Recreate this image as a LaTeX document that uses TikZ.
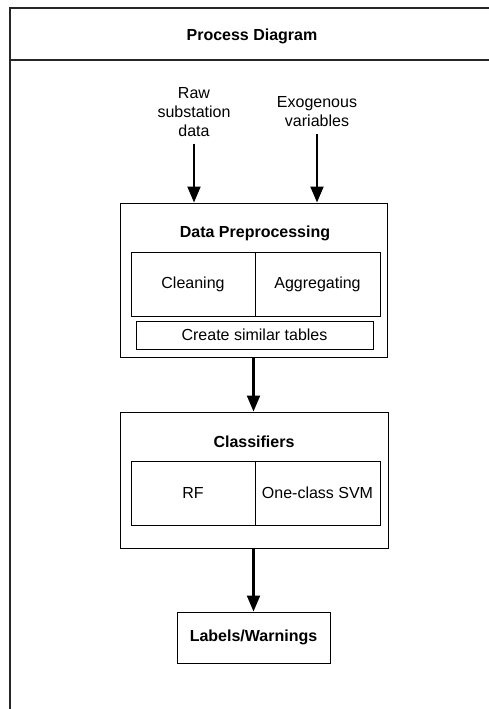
\documentclass[tikz,border=0pt]{standalone}
\usepackage{fontspec}
\setmainfont{Liberation Sans}
\usetikzlibrary{arrows.meta}
\begin{document}
\begin{tikzpicture}[x=1pt,y=-1pt,
  every node/.style={font=\fontsize{16}{19}\selectfont},
  box/.style={draw=black,line width=1pt,rectangle,inner sep=0pt,anchor=center},
  txt/.style={inner sep=0pt,align=center},
  ttl/.style={inner sep=0pt,font=\fontsize{16}{19}\selectfont\bfseries},
  arr/.style={line width=2.2pt,-{Triangle[length=16pt,width=13pt]}},
  frame/.style={line width=1.6pt,draw=black!85}]
\useasboundingbox (0,0) rectangle (489,709);
% frame
\coordinate (fbl) at (10,709);
\coordinate (ftl) at (10,8);
\coordinate (ftr) at (489,8);
\coordinate (fsl) at (10,60);
\coordinate (fsr) at (489,60);
\draw[frame] (fbl) -- (ftl) -- (ftr);
\draw[frame,line width=1.2pt] (fsl) -- (fsr);
\node[ttl] (title) at (252,36) {Process Diagram};
% inputs
\node[txt] (raw) at (194,112) {Raw\\substation\\data};
\node[txt] (exo) at (317,112) {Exogenous\\variables};
% data preprocessing
\node[box,minimum width=267pt,minimum height=154pt] (dp) at (253.5,280) {};
\node[ttl] (dpt) at (255,233) {Data Preprocessing};
\node[box,minimum width=124pt,minimum height=64pt] (clean) at (193,284) {Cleaning};
\node[box,minimum width=125pt,minimum height=64pt] (agg) at (317.5,284) {Aggregating};
\node[box,minimum width=237pt,minimum height=28pt] (sim) at (254.5,335) {Create similar tables};
% classifiers
\node[box,minimum width=268pt,minimum height=136pt] (cl) at (254,480) {};
\node[ttl] (clt) at (254,442) {Classifiers};
\node[box,minimum width=124pt,minimum height=64pt] (rf) at (193,493) {RF};
\node[box,minimum width=125pt,minimum height=64pt] (svm) at (317.5,493) {One-class SVM};
% output
\node[box,minimum width=153pt,minimum height=51pt,font=\fontsize{16}{19}\selectfont\bfseries] (lab) at (253.5,637.5) {Labels/Warnings};
% arrows
\draw[arr,shorten <=7pt] (raw.south) -- (raw.south |- dp.north);
\draw[arr,shorten <=7pt] (exo.south) -- (exo.south |- dp.north);
\draw[arr] (dp.south -| lab.north) -- (cl.north -| lab.north);
\draw[arr] (cl.south -| lab.north) -- (lab.north);
\end{tikzpicture}
\end{document}
